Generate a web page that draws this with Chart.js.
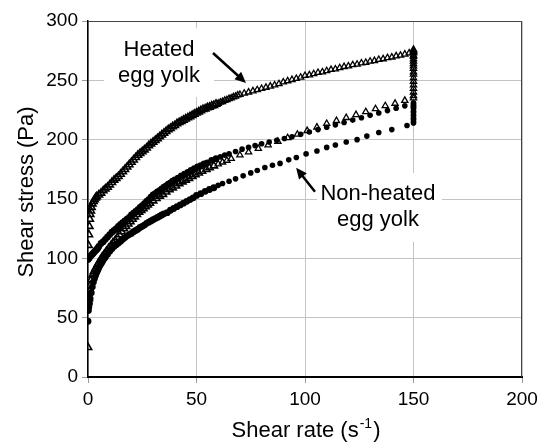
<!DOCTYPE html>
<html lang="en">
<head>
<meta charset="UTF-8">
<title>Shear stress vs shear rate</title>
<script src="https://cdn.jsdelivr.net/npm/chart.js"></script>
<style>
  html, body { margin: 0; padding: 0; background: #fff; }
</style>
</head>
<body>
<canvas id="myChart" width="537" height="442"></canvas>
<script>
  // axis ticks
  const xTicks = [0, 50, 100, 150, 200];
  const yTicks = [0, 50, 100, 150, 200, 250, 300];

  // Heated egg yolk - up curve (shear rate s-1, shear stress Pa)
  const heatedUpRate = [0, 0.2, 0.4, 0.6, 0.8, 1, 1.3, 1.6, 2, 2.5, 3, 3.5, 4, 5, 6, 7, 8, 9, 10, 11, 12, 13, 14, 15, 16, 17, 18, 19, 20, 21, 22, 23, 24, 25, 26, 27, 28, 29, 30, 31, 32, 33, 34, 35, 36, 37, 38, 39, 40, 41, 42, 43, 44, 45, 46, 47, 48, 49, 50, 51, 52, 53, 54, 55, 56, 57, 58, 59, 60, 61, 62, 63, 64, 65, 66, 67, 68, 69, 70, 72, 74, 76, 78, 80, 82, 84, 86, 88, 90, 92, 94, 96, 98, 100, 102, 104, 106, 108, 110, 112, 114, 116, 118, 120, 122, 124, 126, 128, 130, 132, 134, 136, 138, 140, 142, 144, 146, 148, 150];
  const heatedUpStress = [25, 111, 120, 127, 133, 137, 140, 143, 146, 148, 149.5, 151, 152, 153.5, 155, 157, 158.5, 160, 162, 164, 166, 167.5, 169, 171, 173, 175, 177, 179, 181, 183, 185, 187, 188.5, 190, 191.5, 193, 195, 196.5, 198, 199.5, 201, 202.5, 204, 205.5, 207, 208.5, 209.5, 211, 212, 213.5, 214.5, 215.5, 216.5, 217.5, 218.5, 219.5, 220.5, 221.5, 222.5, 223.5, 224.5, 225.5, 226, 227, 227.5, 228.5, 229, 230, 230.5, 231.5, 232, 233, 233.5, 234.5, 235, 236, 236.5, 237.5, 238, 239, 240, 241, 242, 243, 244, 245, 246, 247, 248.5, 249.5, 250.5, 251.5, 252.5, 254, 254.5, 255.5, 256.5, 257, 258, 259, 259.5, 260.5, 261.5, 262, 263, 263.5, 264.5, 265, 266, 266.5, 267.5, 268, 269, 269.5, 270.5, 271, 272, 273, 274];
  // Heated - hold at 150 s-1
  const heatedHoldStress = [276, 275, 274, 273, 271, 270, 268, 266, 264, 262, 260, 257, 255, 252, 249, 246, 243, 240, 237, 235];
  // Heated - down curve
  const heatedDownRate = [146, 141.5, 137, 132.5, 128, 123.5, 119, 114.5, 110, 105.5, 101, 96.5, 92, 87.5, 83, 78.5, 74, 70, 66, 64, 62, 60, 58, 56, 54.5, 52.5, 51, 49.5, 48, 46.5, 45, 43.5, 42, 40.5, 39, 37.5, 36, 34.5, 33, 31.5, 30, 28.5, 27.5, 26.5, 25.5, 24.5, 23.5, 22.5, 21.5, 20.5, 19.5, 18.5, 17.5, 16.5, 15.5, 14.5, 13.5, 12.5, 11.5, 10.5, 9.5, 8.5, 7.5, 6.5, 5.5, 4.5, 3.5, 2.8, 2.1, 1.5, 1, 0.6, 0.3];
  const heatedDownStress = [233, 230.5, 228.5, 226, 223.5, 221, 218.5, 216, 213.5, 210.5, 207.5, 204.5, 201.5, 198.5, 195.5, 192.5, 189.5, 187, 184, 182.5, 181, 179.5, 178, 176.5, 175, 173.5, 172, 170.5, 169, 167.5, 166, 164.5, 163, 161, 159.5, 158, 156, 154, 152.5, 150.5, 148.5, 146.5, 145, 143.5, 142, 140.5, 139, 137, 135, 133, 131, 129, 127, 125, 122.5, 120, 117.5, 115, 113, 110.5, 108.5, 106, 103.5, 101, 98, 95, 91.5, 89, 86, 82, 77, 72, 66];

  // Non-heated egg yolk - up curve
  const nonHeatedUpRate = [0, 0.5, 1, 1.5, 2, 2.5, 3, 3.5, 4, 4.5, 5, 6, 7, 8, 9, 10, 11, 12, 13, 14, 15, 16, 17, 18, 19, 20, 21, 22, 23, 24, 25, 26, 27, 28, 29, 30, 31, 32, 33, 34, 35, 36, 37, 38, 39, 40, 41.5, 43, 44.5, 46, 47.5, 49, 50.5, 52, 53.5, 55, 57, 59, 61, 63, 65, 68, 71, 74, 77, 80, 83.5, 87, 90.5, 94, 98, 102, 106, 110, 114, 118, 122, 126, 130, 134, 138, 142, 146];
  const nonHeatedUpStress = [99, 100, 101.5, 102.5, 103.5, 104.5, 105.5, 106.5, 107.5, 108.5, 110, 112.5, 114, 116, 118, 120, 122, 123.5, 125, 127, 128.5, 130, 131.5, 133, 134.5, 136.5, 138, 139.5, 141, 143, 144.5, 146, 148, 149.5, 151.5, 153.5, 154.5, 156, 157, 158.5, 160, 161, 162.5, 163.5, 165, 166, 167.5, 169.5, 171, 172.5, 174, 175.5, 177, 178, 179.5, 180.5, 182.5, 184, 185.5, 187, 188, 190, 192, 193.5, 195, 196.5, 198, 199.5, 201, 202.5, 204.5, 206.5, 208.5, 210.5, 212.5, 214.5, 216.5, 218.5, 220.5, 222.5, 224.5, 226.5, 228.5];
  // Non-heated - hold at 150 s-1
  const nonHeatedHoldStress = [231, 230, 229, 228, 227, 226, 224, 223, 221, 220, 218, 217, 215, 214];
  // Non-heated - down curve
  const nonHeatedDownRate = [147, 140, 134, 128.5, 124, 119, 114, 110, 105.5, 100.5, 96, 92.5, 88.5, 85, 81.5, 78, 75, 71.5, 68, 65, 62, 60, 58, 56, 54, 52, 50, 48.5, 47, 45.5, 44, 42.5, 41, 39.5, 38, 36.5, 35, 34, 33, 32, 31, 30, 29, 28, 27, 26, 25, 24, 23, 22, 21, 20, 19, 18, 17, 16, 15, 14, 13, 12, 11, 10, 9, 8, 7.5, 7, 6.5, 6, 5.5, 5, 4.5, 4, 3.5, 3, 2.5, 2, 1.5, 1, 0.7, 0.4, 0.2, 0];
  const nonHeatedDownStress = [212, 208.5, 206, 203, 200, 198, 195.5, 193.5, 190.5, 188, 185, 183, 180, 178.5, 176.5, 174, 172, 169.5, 167, 165, 163, 161.5, 159.5, 158, 156.5, 154.5, 153, 151, 149.5, 148, 146.5, 145, 143.5, 142, 140.5, 138.5, 137.5, 136.5, 135.5, 134.5, 133.5, 132.5, 131.5, 130.5, 129.5, 128, 127, 126, 124.5, 123.5, 122.5, 121, 120, 119, 117.5, 116, 114.5, 113, 111.5, 110, 108, 106, 103.5, 101, 100, 98.5, 97, 95.5, 94, 92, 90, 88, 85.5, 83, 80, 76, 71, 66, 62, 59, 56, 47];

  const fontFamily = '"Liberation Sans", Arial, Helvetica, sans-serif';

  // annotation placement (data units)
  const notes = [
    { lines: ['Heated', 'egg yolk'], x: 32.7, base: [270.5, 248.6], box: [7.4, 58.1, 294, 236],
      arrow: [57.6, 273.0, 72.8, 247.8] },
    { lines: ['Non-heated', 'egg yolk'], x: 133.6, base: [149.2, 127.2], box: [105.5, 163.1, 171.9, 113.8],
      arrow: [104.6, 156.1, 95.9, 176.3] }
  ];

  function pairs(xs, ys) {
    return xs.map((v, i) => ({ x: v, y: ys[i] }));
  }

  const heatedData = pairs(heatedUpRate, heatedUpStress)
    .concat(heatedHoldStress.map(s => ({ x: 150, y: s })))
    .concat(pairs(heatedDownRate, heatedDownStress));
  const nonHeatedData = pairs(nonHeatedUpRate, nonHeatedUpStress)
    .concat(nonHeatedHoldStress.map(s => ({ x: 150, y: s })))
    .concat(pairs(nonHeatedDownRate, nonHeatedDownStress));

  // markers in the crowded low shear-rate region print heavier
  function markerSize(big, small) {
    return c => (c.raw && c.raw.x < 60 ? big : small);
  }

  function drawArrow(ctx, x1, y1, x2, y2) {
    const ang = Math.atan2(y2 - y1, x2 - x1);
    const len = 11, half = 5;
    const c = Math.cos(ang), s = Math.sin(ang);
    ctx.beginPath();
    ctx.moveTo(x1, y1);
    ctx.lineTo(x2 - c * len * 0.8, y2 - s * len * 0.8);
    ctx.lineWidth = 2.5;
    ctx.stroke();
    ctx.beginPath();
    ctx.moveTo(x2, y2);
    ctx.lineTo(x2 - c * len + s * half, y2 - s * len - c * half);
    ctx.lineTo(x2 - c * len - s * half, y2 - s * len + c * half);
    ctx.closePath();
    ctx.fill();
  }

  const overlay = {
    id: 'overlay',
    beforeDatasetsDraw(chart) {
      const { ctx, scales: { x, y } } = chart;
      ctx.save();
      ctx.fillStyle = '#fff';
      notes.forEach(n => {
        const l = x.getPixelForValue(n.box[0]), r = x.getPixelForValue(n.box[1]);
        const t = y.getPixelForValue(n.box[2]), b = y.getPixelForValue(n.box[3]);
        ctx.fillRect(l, t, r - l, b - t);
      });
      ctx.restore();
    },
    afterDatasetsDraw(chart) {
      const { ctx, scales: { x, y } } = chart;
      ctx.save();
      ctx.fillStyle = '#000';
      ctx.strokeStyle = '#000';
      ctx.font = '22px ' + fontFamily;
      ctx.textAlign = 'center';
      ctx.textBaseline = 'alphabetic';
      notes.forEach(n => {
        n.lines.forEach((txt, i) => {
          ctx.fillText(txt, x.getPixelForValue(n.x), y.getPixelForValue(n.base[i]));
        });
        drawArrow(ctx, x.getPixelForValue(n.arrow[0]), y.getPixelForValue(n.arrow[1]),
          x.getPixelForValue(n.arrow[2]), y.getPixelForValue(n.arrow[3]));
      });
      ctx.restore();
    },
    afterDraw(chart) {
      const { ctx, chartArea: a } = chart;
      ctx.save();
      // plot frame (top / right)
      ctx.strokeStyle = '#444';
      ctx.lineWidth = 1;
      ctx.beginPath();
      ctx.moveTo(a.left, a.top + 0.5);
      ctx.lineTo(a.right - 0.5, a.top + 0.5);
      ctx.lineTo(a.right - 0.5, a.bottom);
      ctx.stroke();

      ctx.fillStyle = '#000';
      // x title with superscript
      const main = 'Shear rate (s', sup = '-1', end = ')';
      ctx.font = '22px ' + fontFamily;
      const w1 = ctx.measureText(main).width, w3 = ctx.measureText(end).width;
      ctx.font = '14px ' + fontFamily;
      const w2 = ctx.measureText(sup).width;
      let sx = (a.left + a.right) / 2 - (w1 + w2 + w3) / 2;
      const by = chart.height - 5;
      ctx.textAlign = 'left';
      ctx.textBaseline = 'alphabetic';
      ctx.font = '22px ' + fontFamily;
      ctx.fillText(main, sx, by);
      ctx.font = '14px ' + fontFamily;
      ctx.fillText(sup, sx + w1 + 1, by - 9);
      ctx.font = '22px ' + fontFamily;
      ctx.fillText(end, sx + w1 + w2 + 2, by);

      // y title
      ctx.translate(33, (a.top + a.bottom) / 2 - 7);
      ctx.rotate(-Math.PI / 2);
      ctx.textAlign = 'center';
      ctx.fillText('Shear stress (Pa)', 0, 0);
      ctx.restore();
    }
  };

  const ctx = document.getElementById('myChart').getContext('2d');
  const myChart = new Chart(ctx, {
    type: 'scatter',
    data: {
      datasets: [
        {
          label: 'Non-heated egg yolk',
          data: nonHeatedData,
          pointStyle: 'circle',
          pointRadius: markerSize(3.4, 2.8),
          pointBackgroundColor: '#000',
          pointBorderColor: '#000',
          pointBorderWidth: 0,
          showLine: false
        },
        {
          label: 'Heated egg yolk',
          data: heatedData,
          pointStyle: 'triangle',
          pointRadius: markerSize(4.2, 3.6),
          pointBackgroundColor: 'rgba(255,255,255,0)',
          pointBorderColor: '#000',
          pointBorderWidth: markerSize(1.6, 1.3),
          showLine: false
        }
      ]
    },
    options: {
      responsive: false,
      animation: false,
      layout: { padding: { top: 21, right: 15, left: 0, bottom: 0 } },
      plugins: { legend: { display: false }, tooltip: { enabled: false } },
      scales: {
        x: {
          type: 'linear',
          min: 0,
          max: 200,
          afterBuildTicks: s => { s.ticks = xTicks.map(v => ({ value: v })); },
          afterFit: s => { s.height = 65; s.paddingLeft = 0; s.paddingRight = 0; },
          grid: { color: '#c4c4c4', tickColor: '#999', tickLength: 6, lineWidth: 1 },
          border: { color: '#000', width: 2 },
          ticks: { color: '#000', font: { size: 19, family: fontFamily }, padding: 5, maxRotation: 0 }
        },
        y: {
          type: 'linear',
          min: 0,
          max: 300,
          afterBuildTicks: s => { s.ticks = yTicks.map(v => ({ value: v })); },
          afterFit: s => { s.width = 88; s.paddingTop = 0; s.paddingBottom = 0; },
          grid: { color: '#c4c4c4', tickColor: '#999', tickLength: 6, lineWidth: 1 },
          border: { color: '#000', width: 1.5 },
          ticks: { color: '#000', font: { size: 19, family: fontFamily }, padding: 4 }
        }
      }
    },
    plugins: [overlay]
  });
</script>
</body>
</html>
